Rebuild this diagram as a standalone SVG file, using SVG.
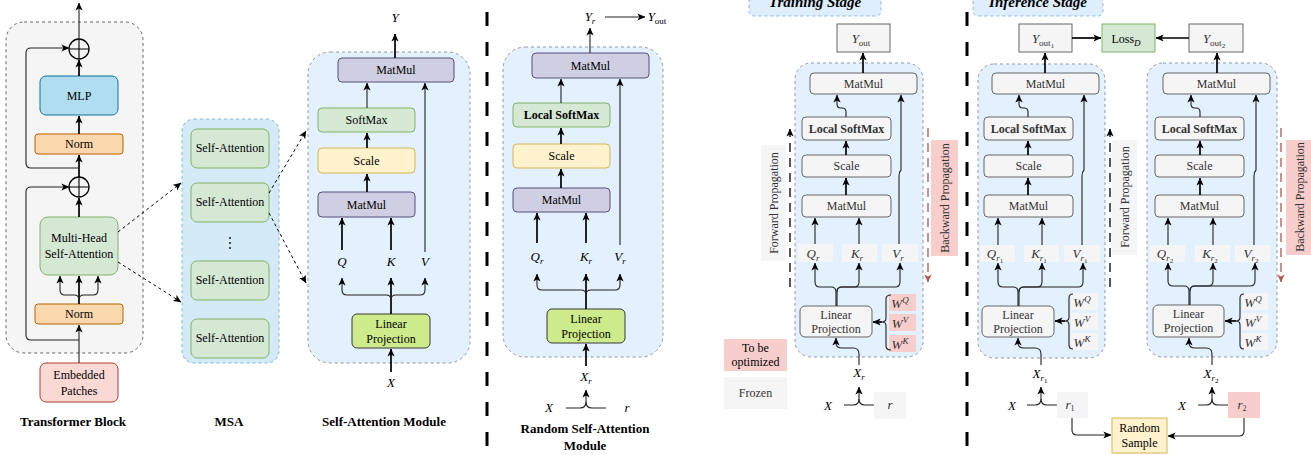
<svg xmlns="http://www.w3.org/2000/svg" width="1311" height="455" viewBox="0 0 1311 455">
<style>
text{font-family:"Liberation Serif","Times New Roman",serif;font-size:12px;text-anchor:middle;fill:#000}
.b{font-weight:bold}
.i{font-style:italic}
.g{fill:#333}
.lbl{font-size:13px;font-style:italic}
.ttl{font-size:13px;font-weight:bold}
.stg{font-size:15px;font-weight:bold;font-style:italic}
.gr{fill:#f5f5f5;stroke:#666;stroke-width:1}
.grn{fill:#f5f5f5;stroke:none}
.pk{fill:#f8cecc;stroke:none}
.c{fill:none;stroke:#000;stroke-width:1.7}
.ct{fill:none;stroke:#222;stroke-width:1.1}
.d{fill:none;stroke:#000;stroke-width:1;stroke-dasharray:3 3}
.sep{stroke:#000;stroke-width:3;stroke-dasharray:14 16}
.cont{fill:#e3f0fd;stroke:#999;stroke-width:1;stroke-dasharray:3 3}
.mm{fill:#d0cee2;stroke:#56517e;stroke-width:1}
.sm{fill:#d5e8d4;stroke:#82b366;stroke-width:1}
.sc{fill:#fff2cc;stroke:#d6b656;stroke-width:1}
.lp{fill:#cdeb8b;stroke:#36393d;stroke-width:1}
.nm{fill:#fad7ac;stroke:#b46504;stroke-width:1}
</style>
<defs>
<marker id="a" viewBox="0 0 10 10" refX="9.5" refY="5" markerWidth="8" markerHeight="8" markerUnits="userSpaceOnUse" orient="auto"><path d="M0,0.5 L10,5 L0,9.5 L2.5,5z" fill="#000"/></marker>
<marker id="ar" viewBox="0 0 10 10" refX="9.5" refY="5" markerWidth="8" markerHeight="8" markerUnits="userSpaceOnUse" orient="auto"><path d="M0,0.5 L10,5 L0,9.5 L2.5,5z" fill="#b85450"/></marker>
</defs>

<!-- separators -->
<line class="sep" x1="487" y1="-18" x2="487" y2="455"/>
<line class="sep" x1="967" y1="-18" x2="967" y2="455"/>

<!-- ============ Transformer block ============ -->
<g id="transformer-block">
<rect x="6" y="22" width="137" height="331" rx="18" fill="#f5f5f5" stroke="#666" stroke-dasharray="3 3"/>
</g>
<g id="plus1"><circle cx="79" cy="49" r="10" fill="none" stroke="#000" stroke-width="1.3"/><path d="M69,49 H89 M79,39 V59" stroke="#000" stroke-width="1.1"/></g>
<g id="plus2"><circle cx="79" cy="187" r="10" fill="none" stroke="#000" stroke-width="1.3"/><path d="M69,187 H89 M79,177 V197" stroke="#000" stroke-width="1.1"/></g>
<g id="mlp"><rect x="40" y="76" width="78" height="39" rx="6" fill="#b1ddf0" stroke="#10739e"/><text x="79" y="100" font-size="13">MLP</text></g>
<g id="norm1"><rect class="nm" x="35" y="134" width="88" height="20" rx="3"/><text x="79" y="148">Norm</text></g>
<g id="mhsa"><rect class="sm" x="40" y="217" width="78" height="58" rx="8"/><text x="79" y="242">Multi-Head</text><text x="79" y="258">Self-Attention</text></g>
<g id="norm2"><rect class="nm" x="35" y="304" width="88" height="20" rx="3"/><text x="79" y="318">Norm</text></g>
<g id="embedded"><rect x="40" y="363" width="78" height="39" rx="6" fill="#fad9d5" stroke="#ae4132"/><text x="79" y="379">Embedded</text><text x="79" y="395">Patches</text></g>
<text class="ttl" x="73" y="426">Transformer Block</text>

<!-- ============ MSA ============ -->
<g id="msa"><rect x="182" y="119" width="97" height="244" rx="12" fill="#d4eaf6" stroke="#7fb8d8" stroke-dasharray="3 3"/>
<circle cx="230" cy="238" r="0.9"/><circle cx="230" cy="243" r="0.9"/><circle cx="230" cy="248" r="0.9"/></g>
<g id="sa1"><rect class="sm" x="191" y="129" width="78" height="39" rx="6"/><text x="230" y="152">Self-Attention</text></g>
<g id="sa2"><rect class="sm" x="191" y="183" width="78" height="39" rx="6"/><text x="230" y="206">Self-Attention</text></g>
<g id="sa3"><rect class="sm" x="191" y="261" width="78" height="39" rx="6"/><text x="230" y="284">Self-Attention</text></g>
<g id="sa4"><rect class="sm" x="191" y="319" width="78" height="39" rx="6"/><text x="230" y="342">Self-Attention</text></g>
<text class="ttl" x="229" y="426">MSA</text>

<!-- ============ Self-Attention Module ============ -->
<g id="sam"><rect class="cont" x="308" y="52" width="162" height="311" rx="22"/></g>
<g id="sam-matmul2"><rect class="mm" x="338" y="58" width="116" height="24" rx="4"/><text x="396" y="74">MatMul</text></g>
<g id="sam-softmax"><rect class="sm" x="318" y="108" width="97" height="24" rx="4"/><text x="366.5" y="124">SoftMax</text></g>
<g id="sam-scale"><rect class="sc" x="318" y="148" width="97" height="25" rx="4"/><text x="366.5" y="165">Scale</text></g>
<g id="sam-matmul1"><rect class="mm" x="318" y="192" width="97" height="25" rx="4"/><text x="366.5" y="209">MatMul</text></g>
<g id="sam-lp"><rect class="lp" x="352" y="314" width="78" height="34" rx="5"/><text x="391" y="328">Linear</text><text x="391" y="343">Projection</text></g>
<text class="lbl" x="395" y="22">Y</text>
<text class="lbl" x="342" y="266">Q</text>
<text class="lbl" x="391" y="266">K</text>
<text class="lbl" x="425" y="266">V</text>
<text class="lbl" x="391" y="387">X</text>
<text class="ttl" x="384" y="426">Self-Attention Module</text>

<!-- ============ Random Self-Attention Module ============ -->
<g id="rsam"><rect class="cont" x="503" y="47" width="160" height="310" rx="22"/></g>
<g id="rsam-matmul2"><rect class="mm" x="532" y="53" width="117" height="25" rx="4"/><text x="590.5" y="70">MatMul</text></g>
<g id="rsam-lsm"><rect class="sm" x="513" y="103" width="97" height="24" rx="4"/><text class="b" x="561.5" y="119">Local SoftMax</text></g>
<g id="rsam-scale"><rect class="sc" x="513" y="144" width="97" height="24" rx="4"/><text x="561.5" y="160">Scale</text></g>
<g id="rsam-matmul1"><rect class="mm" x="513" y="188" width="97" height="24" rx="4"/><text x="561.5" y="204">MatMul</text></g>
<g id="rsam-lp"><rect class="lp" x="547" y="309" width="78" height="34" rx="5"/><text x="586" y="323">Linear</text><text x="586" y="338">Projection</text></g>
<text class="lbl" x="590" y="21">Y<tspan font-size="9" dy="3">r</tspan></text>
<text class="lbl" x="657" y="21">Y<tspan font-size="9" font-style="normal" dy="3">out</tspan></text>
<text class="lbl" x="537" y="261">Q<tspan font-size="9" dy="3">r</tspan></text>
<text class="lbl" x="586" y="261">K<tspan font-size="9" dy="3">r</tspan></text>
<text class="lbl" x="620" y="261">V<tspan font-size="9" dy="3">r</tspan></text>
<text class="lbl" x="586" y="381">X<tspan font-size="9" dy="3">r</tspan></text>
<text class="lbl" x="549" y="412">X</text>
<text class="lbl" x="627" y="412">r</text>
<text class="ttl" x="585" y="433">Random Self-Attention</text>
<text class="ttl" x="585" y="450">Module</text>

<!-- ============ Training Stage ============ -->
<g id="training-label"><rect x="749" y="-12" width="132" height="28" rx="5" fill="#dfeefc" stroke="#8db8df" stroke-dasharray="3 3"/><text class="stg" x="815" y="7">Training Stage</text></g>
<g id="t-yout"><rect class="gr" x="837" y="24" width="53" height="28"/><text class="lbl g" x="861" y="43">Y<tspan font-size="9" font-style="normal" dy="3">out</tspan></text></g>
<g id="t-cont"><rect class="cont" x="795" y="63" width="128" height="294" rx="16"/></g>
<g id="t-matmul2"><rect class="gr" x="810" y="73" width="107" height="21" rx="4"/><text class="g" x="863.5" y="88">MatMul</text></g>
<g id="t-lsm"><rect class="gr" x="802" y="117" width="89" height="23" rx="4"/><text class="b g" x="846.5" y="133">Local SoftMax</text></g>
<g id="t-scale"><rect class="gr" x="802" y="155" width="89" height="22" rx="4"/><text class="g" x="846.5" y="170">Scale</text></g>
<g id="t-matmul1"><rect class="gr" x="802" y="195" width="89" height="22" rx="4"/><text class="g" x="846.5" y="210">MatMul</text></g>
<g id="t-q"><rect class="grn" x="798" y="244" width="35" height="18"/><text class="lbl g" x="813" y="258">Q<tspan font-size="9" dy="3">r</tspan></text></g>
<g id="t-k"><rect class="grn" x="842" y="244" width="35" height="18"/><text class="lbl g" x="857" y="258">K<tspan font-size="9" dy="3">r</tspan></text></g>
<g id="t-v"><rect class="grn" x="882" y="244" width="36" height="18"/><text class="lbl g" x="898" y="258">V<tspan font-size="9" dy="3">r</tspan></text></g>
<g id="t-lp"><rect class="gr" x="800" y="306" width="72" height="31" rx="5"/><text class="g" x="836" y="319">Linear</text><text class="g" x="836" y="333">Projection</text></g>
<g id="t-w"><rect class="pk" x="889" y="294" width="27" height="17"/><rect class="pk" x="889" y="314" width="27" height="17"/><rect class="pk" x="889" y="335" width="27" height="17"/>
<text class="lbl g" x="900" y="308">W<tspan font-size="9" dy="-5">Q</tspan></text>
<text class="lbl g" x="900" y="328">W<tspan font-size="9" dy="-5">V</tspan></text>
<text class="lbl g" x="900" y="349">W<tspan font-size="9" dy="-5">K</tspan></text></g>
<g id="t-r"><rect class="grn" x="874" y="392" width="32" height="27"/><text class="lbl g" x="890" y="409">r</text></g>
<text class="lbl" x="859" y="377">X<tspan font-size="9" dy="3">r</tspan></text>
<text class="lbl" x="828" y="410">X</text>
<g id="legend-opt"><rect class="pk" x="724" y="339" width="63" height="32"/><text x="755.5" y="352">To be</text><text x="755.5" y="366">optimized</text></g>
<g id="legend-frozen"><rect class="grn" x="724" y="377" width="63" height="32"/><text class="g" x="755.5" y="397">Frozen</text></g>
<g id="t-fwd"><rect class="grn" x="761" y="145" width="25" height="116"/><text class="g" transform="translate(773.5,203) rotate(-90)" y="4">Forward Propagation</text></g>
<g id="t-bwd"><rect class="pk" x="931" y="140" width="27" height="116"/><text class="g" transform="translate(944.5,198) rotate(-90)" y="4">Backward Propagation</text></g>

<!-- ============ Inference Stage ============ -->
<g id="inference-label"><rect x="973" y="-12" width="130" height="28" rx="5" fill="#dfeefc" stroke="#8db8df" stroke-dasharray="3 3"/><text class="stg" x="1038" y="7">Inference Stage</text></g>
<g id="i-yout1"><rect class="gr" x="1019" y="24" width="53" height="28"/><text class="lbl g" x="1043" y="43">Y<tspan font-size="9" font-style="normal" dy="3">out</tspan><tspan font-size="7" font-style="normal" dy="2">1</tspan></text></g>
<g id="i-loss"><rect class="sm" x="1102" y="24" width="53" height="28"/><text x="1126" y="43" font-size="13">Loss<tspan font-size="9" font-style="italic" dy="3">D</tspan></text></g>
<g id="i-yout2"><rect class="gr" x="1189" y="24" width="54" height="28"/><text class="lbl g" x="1214" y="43">Y<tspan font-size="9" font-style="normal" dy="3">out</tspan><tspan font-size="7" font-style="normal" dy="2">2</tspan></text></g>

<g id="i1-cont"><rect class="cont" x="978" y="64" width="127" height="294" rx="16"/></g>
<g id="i1-matmul2"><rect class="gr" x="992" y="73" width="107" height="21" rx="4"/><text class="g" x="1045.5" y="88">MatMul</text></g>
<g id="i1-lsm"><rect class="gr" x="984" y="117" width="89" height="23" rx="4"/><text class="b g" x="1028.5" y="133">Local SoftMax</text></g>
<g id="i1-scale"><rect class="gr" x="984" y="155" width="89" height="22" rx="4"/><text class="g" x="1028.5" y="170">Scale</text></g>
<g id="i1-matmul1"><rect class="gr" x="984" y="195" width="89" height="22" rx="4"/><text class="g" x="1028.5" y="210">MatMul</text></g>
<g id="i1-q"><rect class="grn" x="980" y="245" width="35" height="17"/><text class="lbl g" x="995" y="258">Q<tspan font-size="9" dy="3">r</tspan><tspan font-size="7" font-style="normal" dy="2">1</tspan></text></g>
<g id="i1-k"><rect class="grn" x="1024" y="245" width="35" height="17"/><text class="lbl g" x="1039" y="258">K<tspan font-size="9" dy="3">r</tspan><tspan font-size="7" font-style="normal" dy="2">1</tspan></text></g>
<g id="i1-v"><rect class="grn" x="1064" y="245" width="36" height="17"/><text class="lbl g" x="1080" y="258">V<tspan font-size="9" dy="3">r</tspan><tspan font-size="7" font-style="normal" dy="2">1</tspan></text></g>
<g id="i1-lp"><rect class="gr" x="982" y="306" width="72" height="31" rx="5"/><text class="g" x="1018" y="319">Linear</text><text class="g" x="1018" y="333">Projection</text></g>
<g id="i1-w"><rect class="grn" x="1071" y="293" width="27" height="17"/><rect class="grn" x="1071" y="313" width="27" height="17"/><rect class="grn" x="1071" y="333" width="27" height="17"/>
<text class="lbl g" x="1082" y="307">W<tspan font-size="9" dy="-5">Q</tspan></text>
<text class="lbl g" x="1082" y="327">W<tspan font-size="9" dy="-5">V</tspan></text>
<text class="lbl g" x="1082" y="347">W<tspan font-size="9" dy="-5">K</tspan></text></g>
<g id="i1-r"><rect class="grn" x="1057" y="392" width="31" height="26"/><text class="lbl g" x="1070" y="409">r<tspan font-size="8" font-style="normal" dy="2">1</tspan></text></g>
<text class="lbl" x="1040" y="378">X<tspan font-size="9" dy="3">r</tspan><tspan font-size="7" font-style="normal" dy="2">1</tspan></text>
<text class="lbl" x="1012" y="410">X</text>
<g id="i-fwd"><rect class="grn" x="1112" y="140" width="25" height="115"/><text class="g" transform="translate(1124.5,197) rotate(-90)" y="4">Forward Propagation</text></g>

<g id="i2-cont"><rect class="cont" x="1147" y="63" width="130" height="294" rx="16"/></g>
<g id="i2-matmul2"><rect class="gr" x="1163" y="73" width="107" height="21" rx="4"/><text class="g" x="1216.5" y="88">MatMul</text></g>
<g id="i2-lsm"><rect class="gr" x="1155" y="117" width="89" height="23" rx="4"/><text class="b g" x="1199.5" y="133">Local SoftMax</text></g>
<g id="i2-scale"><rect class="gr" x="1155" y="155" width="89" height="22" rx="4"/><text class="g" x="1199.5" y="170">Scale</text></g>
<g id="i2-matmul1"><rect class="gr" x="1155" y="195" width="89" height="22" rx="4"/><text class="g" x="1199.5" y="210">MatMul</text></g>
<g id="i2-q"><rect class="grn" x="1150" y="245" width="35" height="17"/><text class="lbl g" x="1165" y="258">Q<tspan font-size="9" dy="3">r</tspan><tspan font-size="7" font-style="normal" dy="2">2</tspan></text></g>
<g id="i2-k"><rect class="grn" x="1195" y="245" width="35" height="17"/><text class="lbl g" x="1210" y="258">K<tspan font-size="9" dy="3">r</tspan><tspan font-size="7" font-style="normal" dy="2">2</tspan></text></g>
<g id="i2-v"><rect class="grn" x="1235" y="245" width="35" height="17"/><text class="lbl g" x="1251" y="258">V<tspan font-size="9" dy="3">r</tspan><tspan font-size="7" font-style="normal" dy="2">2</tspan></text></g>
<g id="i2-lp"><rect class="gr" x="1153" y="305" width="71" height="32" rx="5"/><text class="g" x="1188.5" y="318">Linear</text><text class="g" x="1188.5" y="332">Projection</text></g>
<g id="i2-w"><rect class="grn" x="1242" y="293" width="26" height="17"/><rect class="grn" x="1242" y="313" width="26" height="17"/><rect class="grn" x="1242" y="333" width="26" height="17"/>
<text class="lbl g" x="1253" y="307">W<tspan font-size="9" dy="-5">Q</tspan></text>
<text class="lbl g" x="1253" y="327">W<tspan font-size="9" dy="-5">V</tspan></text>
<text class="lbl g" x="1253" y="347">W<tspan font-size="9" dy="-5">K</tspan></text></g>
<g id="i2-r"><rect class="pk" x="1228" y="392" width="32" height="26"/><text class="lbl g" x="1242" y="409">r<tspan font-size="8" font-style="normal" dy="2">2</tspan></text></g>
<text class="lbl" x="1211" y="378">X<tspan font-size="9" dy="3">r</tspan><tspan font-size="7" font-style="normal" dy="2">2</tspan></text>
<text class="lbl" x="1182" y="410">X</text>
<g id="i-bwd"><rect class="pk" x="1286" y="140" width="27" height="115"/><text class="g" transform="translate(1299.5,197) rotate(-90)" y="4">Backward Propagation</text></g>
<g id="random-sample"><rect class="sc" x="1112" y="418" width="55" height="35"/><text x="1139.5" y="432">Random</text><text x="1139.5" y="447">Sample</text></g>

<!-- ============ connectors ============ -->
<g id="connectors">
<!-- transformer -->
<path class="ct" d="M79,39 V3" marker-end="url(#a)"/>
<path class="c" d="M79,76 V60" marker-end="url(#a)"/>
<path class="c" d="M79,134 V116" marker-end="url(#a)"/>
<path class="c" d="M79,177 V155" marker-end="url(#a)"/>
<path class="ct" d="M79,168 H31 Q26,168 26,163 V53 Q26,48 31,48 H69" marker-end="url(#a)"/>
<path class="c" d="M79,217 V198" marker-end="url(#a)"/>
<path class="c" d="M79,304 V276" marker-end="url(#a)"/>
<path class="ct" d="M79,300 Q79,295 74,295 H65 Q60,295 60,290 V276" marker-end="url(#a)"/>
<path class="ct" d="M79,300 Q79,295 84,295 H93 Q98,295 98,290 V276" marker-end="url(#a)"/>
<path class="ct" d="M79,340 H31 Q26,340 26,335 V192 Q26,187 31,187 H69" marker-end="url(#a)"/>
<path class="ct" d="M79,363 V325" marker-end="url(#a)"/>
<!-- dashed links -->
<path class="d" d="M118,232 L181,183" marker-end="url(#a)"/>
<path class="d" d="M118,262 L181,302" marker-end="url(#a)"/>
<path class="d" d="M269,193 L306,131" marker-end="url(#a)"/>
<path class="d" d="M269,213 L306,283" marker-end="url(#a)"/>
<!-- SA module -->
<path class="c" d="M395,58 V34" marker-end="url(#a)"/>
<path class="ct" d="M367,108 V83" marker-end="url(#a)"/>
<path class="c" d="M367,148 V133" marker-end="url(#a)"/>
<path class="c" d="M367,192 V174" marker-end="url(#a)"/>
<path class="c" d="M342,250 V218" marker-end="url(#a)"/>
<path class="c" d="M391,250 V218" marker-end="url(#a)"/>
<path class="ct" d="M425,252 V83" marker-end="url(#a)"/>
<path class="c" d="M391,314 V278" marker-end="url(#a)"/>
<path class="ct" d="M391,300 Q391,295 386,295 H347 Q342,295 342,290 V278" marker-end="url(#a)"/>
<path class="ct" d="M391,300 Q391,295 396,295 H420 Q425,295 425,290 V278" marker-end="url(#a)"/>
<path class="c" d="M391,372 V349" marker-end="url(#a)"/>
<!-- Random SA module -->
<path class="ct" d="M605,17 H645" marker-end="url(#a)"/>
<path class="ct" d="M590,53 V28" marker-end="url(#a)"/>
<path class="ct" d="M561,103 V79" marker-end="url(#a)"/>
<path class="c" d="M561,144 V128" marker-end="url(#a)"/>
<path class="c" d="M561,188 V169" marker-end="url(#a)"/>
<path class="c" d="M537,243 V213" marker-end="url(#a)"/>
<path class="c" d="M586,243 V213" marker-end="url(#a)"/>
<path class="ct" d="M620,245 V79" marker-end="url(#a)"/>
<path class="c" d="M586,309 V274" marker-end="url(#a)"/>
<path class="ct" d="M586,295 Q586,290 581,290 H542 Q537,290 537,285 V274" marker-end="url(#a)"/>
<path class="ct" d="M586,295 Q586,290 591,290 H615 Q620,290 620,285 V274" marker-end="url(#a)"/>
<path class="c" d="M586,366 V344" marker-end="url(#a)"/>
<path class="ct" d="M566,408 H580 Q586,408 586,402 V390" marker-end="url(#a)"/>
<path class="ct" d="M606,408 H592 Q586,408 586,402"/>
<!-- Training -->
<path class="c" d="M863,73 V53" marker-end="url(#a)"/>
<path class="ct" d="M846,117 V112 Q846,108 842,108 H841 Q837,108 837,104 V95" marker-end="url(#a)"/>
<path class="c" d="M846,155 V141" marker-end="url(#a)"/>
<path class="c" d="M846,195 V178" marker-end="url(#a)"/>
<path class="ct" d="M815,244 V218" marker-end="url(#a)"/>
<path class="ct" d="M859,244 V218" marker-end="url(#a)"/>
<path class="ct" d="M899,244 V176 Q899,172 901,170 V95" marker-end="url(#a)"/>
<path class="ct" d="M836,306 V292 Q836,287 831,287 H820 Q815,287 815,282 V263" marker-end="url(#a)"/>
<path class="ct" d="M837,306 V292 Q837,287 842,287 H854 Q859,287 859,282 V263" marker-end="url(#a)"/>
<path class="ct" d="M837,292 Q837,287 842,287 H895 Q900,287 900,282 V263" marker-end="url(#a)"/>
<path class="ct" d="M891,295 Q886,295 886,299 V318 Q886,322 882,322 Q886,322 886,326 V346 Q886,350 891,350"/>
<path class="c" d="M882,322 H873" marker-end="url(#a)"/>
<path class="ct" d="M859,365 V354 Q859,348 853,348 H842 Q836,348 836,343 V338" marker-end="url(#a)"/>
<path class="ct" d="M844,405 H853 Q859,405 859,399 V387" marker-end="url(#a)"/>
<path class="ct" d="M874,405 H865 Q859,405 859,399"/>
<path fill="none" stroke="#000" stroke-width="1.3" stroke-dasharray="9 6" d="M790,287 V129" marker-end="url(#a)"/>
<path fill="none" stroke="#b85450" stroke-width="1.3" stroke-dasharray="9 6" d="M928,128 V282" marker-end="url(#ar)"/>
<!-- Inference -->
<path class="c" d="M1072,38 H1101" marker-end="url(#a)"/>
<path class="c" d="M1189,38 H1156" marker-end="url(#a)"/>
<path class="c" d="M1045,73 V53" marker-end="url(#a)"/>
<path class="ct" d="M1028,117 V112 Q1028,108 1024,108 H1023 Q1019,108 1019,104 V95" marker-end="url(#a)"/>
<path class="c" d="M1028,155 V141" marker-end="url(#a)"/>
<path class="c" d="M1028,195 V178" marker-end="url(#a)"/>
<path class="ct" d="M998,245 V218" marker-end="url(#a)"/>
<path class="ct" d="M1042,245 V218" marker-end="url(#a)"/>
<path class="ct" d="M1082,245 V176 Q1082,172 1084,170 V95" marker-end="url(#a)"/>
<path class="ct" d="M1018,306 V292 Q1018,287 1013,287 H1003 Q998,287 998,282 V263" marker-end="url(#a)"/>
<path class="ct" d="M1019,306 V292 Q1019,287 1024,287 H1037 Q1042,287 1042,282 V263" marker-end="url(#a)"/>
<path class="ct" d="M1019,292 Q1019,287 1024,287 H1078 Q1083,287 1083,282 V263" marker-end="url(#a)"/>
<path class="ct" d="M1073,294 Q1069,294 1069,298 V317 Q1069,321 1065,321 Q1069,321 1069,325 V345 Q1069,349 1073,349"/>
<path class="c" d="M1065,321 H1055" marker-end="url(#a)"/>
<path class="ct" d="M1041,365 V354 Q1041,348 1035,348 H1024 Q1018,348 1018,343 V338" marker-end="url(#a)"/>
<path class="ct" d="M1027,405 H1035 Q1041,405 1041,399 V387" marker-end="url(#a)"/>
<path class="ct" d="M1057,405 H1047 Q1041,405 1041,399"/>
<path class="ct" d="M1072,418 V430 Q1072,435 1077,435 H1111" marker-end="url(#a)"/>
<path fill="none" stroke="#000" stroke-width="1.3" stroke-dasharray="9 6" d="M1110,287 V129" marker-end="url(#a)"/>

<path class="c" d="M1217,73 V53" marker-end="url(#a)"/>
<path class="ct" d="M1200,117 V112 Q1200,108 1196,108 H1195 Q1191,108 1191,104 V95" marker-end="url(#a)"/>
<path class="c" d="M1200,155 V141" marker-end="url(#a)"/>
<path class="c" d="M1200,195 V178" marker-end="url(#a)"/>
<path class="ct" d="M1168,245 V218" marker-end="url(#a)"/>
<path class="ct" d="M1213,245 V218" marker-end="url(#a)"/>
<path class="ct" d="M1254,245 V176 Q1254,172 1256,170 V95" marker-end="url(#a)"/>
<path class="ct" d="M1189,305 V291 Q1189,286 1184,286 H1173 Q1168,286 1168,281 V263" marker-end="url(#a)"/>
<path class="ct" d="M1190,305 V291 Q1190,286 1195,286 H1208 Q1213,286 1213,281 V263" marker-end="url(#a)"/>
<path class="ct" d="M1190,291 Q1190,286 1195,286 H1250 Q1255,286 1255,281 V263" marker-end="url(#a)"/>
<path class="ct" d="M1244,294 Q1240,294 1240,298 V317 Q1240,321 1236,321 Q1240,321 1240,325 V345 Q1240,349 1244,349"/>
<path class="c" d="M1236,321 H1225" marker-end="url(#a)"/>
<path class="ct" d="M1212,365 V354 Q1212,348 1206,348 H1195 Q1189,348 1189,343 V338" marker-end="url(#a)"/>
<path class="ct" d="M1198,405 H1206 Q1212,405 1212,399 V387" marker-end="url(#a)"/>
<path class="ct" d="M1228,405 H1218 Q1212,405 1212,399"/>
<path class="ct" d="M1244,418 V431 Q1244,436 1239,436 H1168" marker-end="url(#a)"/>
<path fill="none" stroke="#b85450" stroke-width="1.3" stroke-dasharray="9 6" d="M1281,128 V282" marker-end="url(#ar)"/>
</g>
</svg>
